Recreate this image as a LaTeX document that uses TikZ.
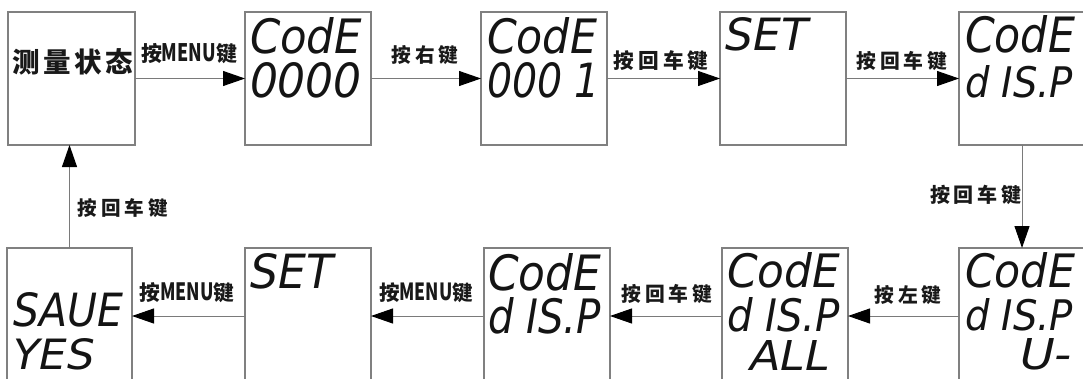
\documentclass[tikz,border=0pt]{standalone}
\usepackage{fontspec}
\usepackage{graphicx}
\newfontfamily\cjk{Noto Sans CJK SC}
\newfontfamily\lcdfam{DejaVu Sans}
\usetikzlibrary{arrows.meta}
\definecolor{boxgray}{HTML}{808080}
\definecolor{linegray}{HTML}{7A7A7A}
\tikzset{
 box/.style={draw=boxgray, line width=1.3pt, inner sep=0pt, outer sep=0pt, minimum width=126pt, minimum height=133pt},
 lowbox/.style={box, minimum height=136pt},
 arr/.style={draw=linegray, line width=1pt, -{Triangle[length=22pt,width=15pt,color=black]}},
 lcd/.style={anchor=north west, inner sep=0pt, outer sep=0pt, text=black!92},
 lab/.style={inner sep=0pt, outer sep=0pt, text=black!90},
}
\newcommand\lcdtxt[3]{\resizebox{#1pt}{#2pt}{\lcdfam\itshape #3}}
\newcommand\labtxt[2]{\resizebox{#1pt}{!}{\cjk\bfseries #2}}
\newcommand\menutxt{\scalebox{0.85}[1.15]{MENU}}
\begin{document}
\begin{tikzpicture}[x=1pt,y=-1pt]
\clip (0,0) rectangle (1083,378);
% top row boxes
\node[box, minimum width=127pt] (A) at (71.5,78.5) {};
\node[box] (B) at (308,78.5) {};
\node[box] (C) at (544,78.5) {};
\node[box] (D) at (783,78.5) {};
\node[box] (E) at (1022,78.5) {};
% bottom row boxes
\node[lowbox, minimum width=125pt] (F) at (69.5,316) {};
\node[lowbox] (G) at (308,316) {};
\node[lowbox] (H) at (547,316) {};
\node[lowbox] (I) at (785,316) {};
\node[lowbox] (J) at (1022,316) {};
% box texts
\node[lab] (tA) at (73,62) {\labtxt{120}{测\kern.12em 量\kern.12em 状\kern.12em 态}};
\node[lcd] (b1) at (250,17) {\lcdtxt{112}{36}{CodE}};
\node[lcd] (b2) at (250,62) {\lcdtxt{112}{35}{0000}};
\node[lcd] (c1) at (487,17) {\lcdtxt{110}{36}{CodE}};
\node[lcd] (c2) at (487,62) {\lcdtxt{113}{35}{000 1}};
\node[lcd] (d1) at (725,17) {\lcdtxt{83}{33}{SET}};
\node[lcd] (e1) at (965,15) {\lcdtxt{110}{37}{CodE}};
\node[lcd] (e2) at (965,65) {\lcdtxt{108}{32}{d IS.P}};
\node[lcd] (f1) at (13,292) {\lcdtxt{110}{34}{SAUE}};
\node[lcd] (f2) at (13,338) {\lcdtxt{82}{31}{YES}};
\node[lcd] (g1) at (250,253) {\lcdtxt{83}{35}{SET}};
\node[lcd] (h1) at (488,253) {\lcdtxt{113}{37}{CodE}};
\node[lcd] (h2) at (488,297) {\lcdtxt{113}{36}{d IS.P}};
\node[lcd] (i1) at (727,252) {\lcdtxt{113}{35}{CodE}};
\node[lcd] (i2) at (727,297) {\lcdtxt{113}{34}{d IS.P}};
\node[lcd] (i3) at (750,340) {\lcdtxt{80}{30}{ALL}};
\node[lcd] (j1) at (965,252) {\lcdtxt{110}{35}{CodE}};
\node[lcd] (j2) at (965,298) {\lcdtxt{108}{32}{d IS.P}};
\node[lcd] (j3) at (1020,338) {\lcdtxt{52}{31}{U-}};
% connectors
\draw[arr] (A) -- (B);
\draw[arr] (B) -- (C);
\draw[arr] (C) -- (D);
\draw[arr] (D) -- (E);
\draw[arr] (E) -- (J);
\draw[arr] (J) -- (I);
\draw[arr] (I) -- (H);
\draw[arr] (H) -- (G);
\draw[arr] (G) -- (F);
\draw[arr] (F.north) -- (F.north |- A.south);
% connector labels
\node[lab] (l1) at (189,54) {\labtxt{96}{按\menutxt 键}};
\node[lab] (l2) at (425,55) {\labtxt{67}{按\kern.2em 右\kern.2em 键}};
\node[lab] (l3) at (661,61) {\labtxt{95}{按\kern.2em 回\kern.2em 车\kern.2em 键}};
\node[lab] (l4) at (902,61) {\labtxt{91}{按\kern.2em 回\kern.2em 车\kern.2em 键}};
\node[lab] (l5) at (976,195) {\labtxt{92}{按\kern.2em 回\kern.2em 车\kern.2em 键}};
\node[lab] (l6) at (123,208) {\labtxt{90}{按\kern.2em 回\kern.2em 车\kern.2em 键}};
\node[lab] (l7) at (187,293) {\labtxt{95}{按\menutxt 键}};
\node[lab] (l8) at (426,293) {\labtxt{94}{按\menutxt 键}};
\node[lab] (l9) at (667,294) {\labtxt{91}{按\kern.2em 回\kern.2em 车\kern.2em 键}};
\node[lab] (l10) at (908,295) {\labtxt{67}{按\kern.2em 左\kern.2em 键}};
\end{tikzpicture}
\end{document}
